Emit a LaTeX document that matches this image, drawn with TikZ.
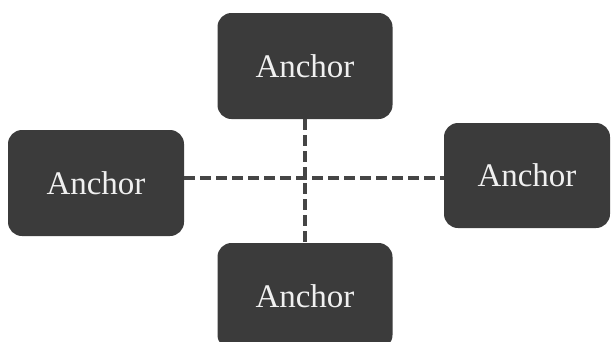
\documentclass[tikz,border=0pt]{standalone}
\usepackage{fontspec}
\setmainfont{Liberation Serif}
\definecolor{boxgray}{HTML}{3B3B3B}
\definecolor{linkgray}{HTML}{454545}
\tikzset{
  anchorbox/.style={rectangle, rounded corners=14pt, fill=boxgray, text=white!94!black,
    minimum width=175pt, minimum height=106pt, inner sep=0pt,
    font=\fontsize{33}{36}\selectfont},
  link/.style={draw=linkgray, line width=3.6pt, dash pattern=on 11pt off 5pt}
}
\begin{document}
\begin{tikzpicture}[x=1pt, y=-1pt]
  \useasboundingbox (0,0) rectangle (611,341);
  \clip (0,0) rectangle (611,341);
  % the four boxes
  \node[anchorbox] (top) at (305,66) {Anchor};
  \node[anchorbox, minimum width=176pt] (left) at (96,183) {Anchor};
  \node[anchorbox, minimum width=166pt, minimum height=105pt] (right) at (527,175.5) {Anchor};
  \node[anchorbox] (bottom) at (305,296) {Anchor};
  % crossing point of the two dashed links
  \coordinate (cross) at (305,178);
  \draw[link] (left.east |- cross) -- (right.west |- cross);
  \draw[link] (top.south) -- (bottom.north);
\end{tikzpicture}
\end{document}
